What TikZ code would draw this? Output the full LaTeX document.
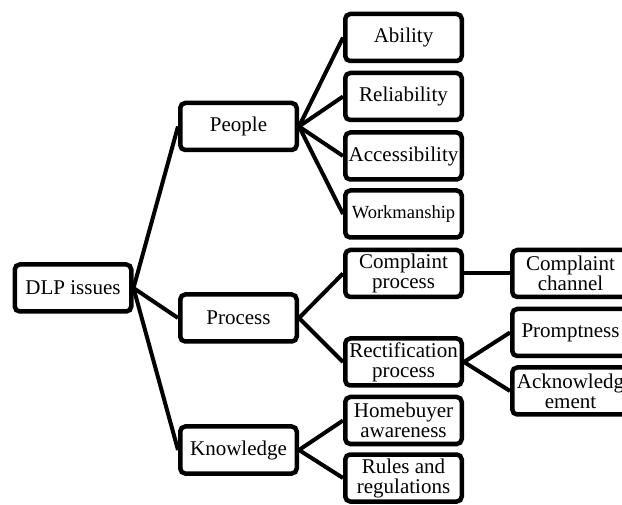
\documentclass[tikz,border=0pt]{standalone}
\usepackage{fontspec}
\setmainfont{Liberation Serif}
\begin{document}
\begin{tikzpicture}[x=1pt,y=-1pt,
  box/.style={draw=black,line width=4.5pt,rounded corners=5pt,fill=white,
    minimum width=116.5pt,minimum height=47pt,inner sep=1pt,align=center,
    font=\fontsize{21}{20}\selectfont},
  link/.style={line width=4pt}]
\useasboundingbox (0,0) rectangle (622,505);
\node[box] (dlp) at (73,288) {DLP issues};
\node[box] (people) at (238.5,126.5) {People};
\node[box] (process) at (238.5,318) {Process};
\node[box] (know) at (238.5,450) {Knowledge};
\node[box] (abil) at (403.5,37.5) {Ability};
\node[box] (rel) at (403.5,96.5) {Reliability};
\node[box] (acc) at (403.5,156) {Accessibility};
\node[box,font=\fontsize{18.5}{20}\selectfont] (work) at (403.5,214) {Workmanship};
\node[box] (cproc) at (403.5,273.5) {Complaint\\process};
\node[box] (rproc) at (403.5,362) {Rectification\\process};
\node[box] (home) at (403.5,420.5) {Homebuyer\\awareness};
\node[box] (rules) at (403.5,478) {Rules and\\regulations};
\node[box] (chan) at (570.5,273.5) {Complaint\\channel};
\node[box] (prompt) at (570.5,332.5) {Promptness};
\node[box] (ack) at (570.5,391) {Acknowledg\\ement};
\draw[link] (dlp.east) -- (people.west);
\draw[link] (dlp.east) -- (process.west);
\draw[link] (dlp.east) -- (know.west);
\draw[link] (people.east) -- (abil.west);
\draw[link] (people.east) -- (rel.west);
\draw[link] (people.east) -- (acc.west);
\draw[link] (people.east) -- (work.west);
\draw[link] (process.east) -- (cproc.west);
\draw[link] (process.east) -- (rproc.west);
\draw[link] (know.east) -- (home.west);
\draw[link] (know.east) -- (rules.west);
\draw[link] (cproc.east) -- (chan.west);
\draw[link] (rproc.east) -- (prompt.west);
\draw[link] (rproc.east) -- (ack.west);
\end{tikzpicture}
\end{document}
